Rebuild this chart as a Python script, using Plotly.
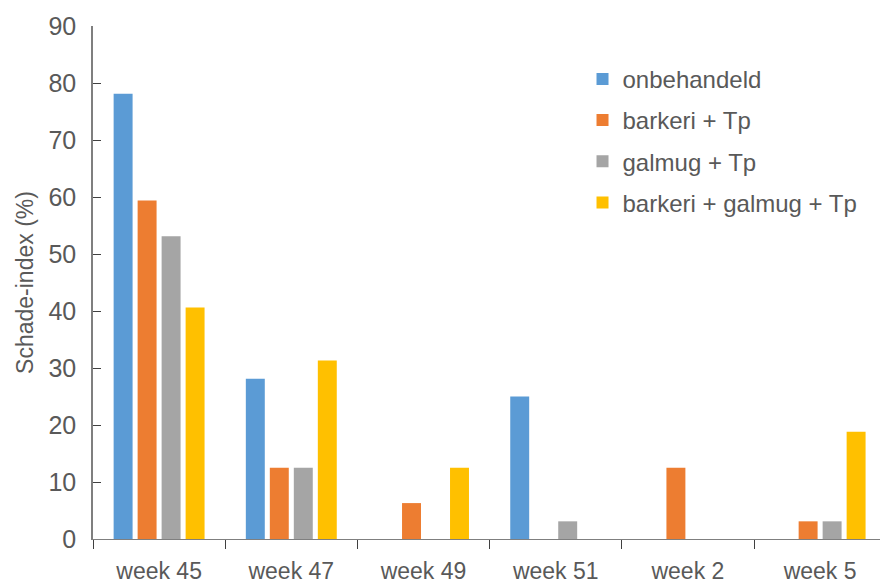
import plotly.graph_objects as go

# Sampling moments and damage index per treatment
weeks = ["week 45", "week 47", "week 49", "week 51", "week 2", "week 5"]
onbehandeld = [78.1, 28.1, 0, 25.0, 0, 0]
barkeri_tp = [59.4, 12.5, 6.3, 0, 12.5, 3.1]
galmug_tp = [53.1, 12.5, 0, 3.1, 0, 3.1]
barkeri_galmug_tp = [40.6, 31.3, 12.5, 0, 0, 18.8]

series_names = ["onbehandeld", "barkeri + Tp", "galmug + Tp", "barkeri + galmug + Tp"]
series_values = [onbehandeld, barkeri_tp, galmug_tp, barkeri_galmug_tp]
colors = ["#5B9BD5", "#ED7D31", "#A5A5A5", "#FFC000"]

FONT = "Liberation Sans, Arial, sans-serif"
TEXT = "#595959"

fig = go.Figure()
for name, vals, col in zip(series_names, series_values, colors):
    fig.add_trace(go.Bar(
        x=weeks, y=vals, name=name, legendgroup=name,
        marker=dict(color=col, line=dict(width=0)),
    ))

fig.update_layout(
    width=880, height=586,
    margin=dict(l=93, r=0, t=26, b=47),
    paper_bgcolor="white", plot_bgcolor="white",
    barmode="group", bargap=0.274, bargroupgap=0.21,
    font=dict(family=FONT, color=TEXT),
    showlegend=True,
    legend=dict(
        x=0.622, y=0.94, xanchor="left", yanchor="top",
        font=dict(size=24, color=TEXT, family=FONT),
        tracegroupgap=7, traceorder="grouped",
        bgcolor="rgba(0,0,0,0)",
    ),
    xaxis=dict(
        range=[-0.5, 5.453], automargin=False,
        showline=True, linecolor="#7f7f7f", linewidth=1,
        ticks="outside", tickson="boundaries", ticklen=9,
        tickcolor="#404040", tickwidth=1,
        tickfont=dict(size=23, color=TEXT, family=FONT),
        ticklabelstandoff=11,
        showgrid=False, zeroline=False, fixedrange=True,
    ),
    yaxis=dict(
        range=[0, 90], dtick=10, tick0=0, automargin=False,
        showline=True, linecolor="#7f7f7f", linewidth=1.5,
        ticks="inside", ticklen=8, tickcolor="#404040", tickwidth=1,
        tickfont=dict(size=25, color=TEXT, family=FONT),
        ticklabelstandoff=10,
        showgrid=False, zeroline=False,
        title=dict(text="Schade-index (%)", font=dict(size=23, color=TEXT, family=FONT),
                   standoff=8),
    ),
)

fig.write_html("out.html")
